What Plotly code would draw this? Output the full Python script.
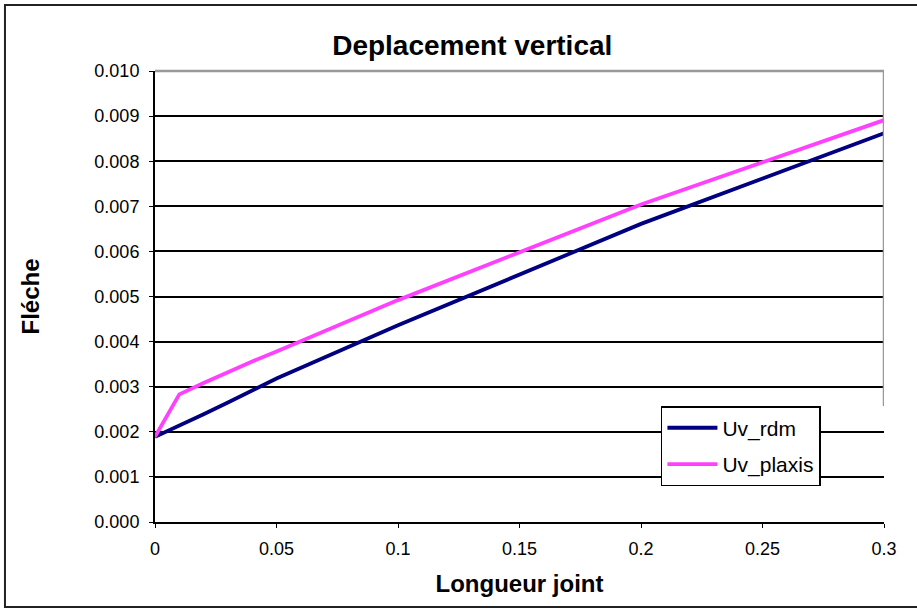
import plotly.graph_objects as go

x_vals = [0, 0.01, 0.02, 0.03, 0.04, 0.05, 0.1, 0.2, 0.3]
uv_rdm = [0.00189, 0.00213, 0.00239, 0.00265, 0.00291, 0.00318, 0.00436, 0.00661, 0.00862]
uv_plaxis = [0.00189, 0.00283, 0.00308, 0.00333, 0.00356, 0.00378, 0.00492, 0.00704, 0.00891]
y_ticks = [0, 0.001, 0.002, 0.003, 0.004, 0.005, 0.006, 0.007, 0.008, 0.009, 0.010]
x_ticks = [0, 0.05, 0.1, 0.15, 0.2, 0.25, 0.3]

FONT = "Liberation Sans, Arial, sans-serif"

fig = go.Figure()
fig.add_trace(go.Scatter(x=x_vals, y=uv_rdm, mode="lines", name="Uv_rdm", legendgroup="a",
                         line=dict(color="#000080", width=3.8)))
fig.add_trace(go.Scatter(x=x_vals, y=uv_plaxis, mode="lines", name="Uv_plaxis", legendgroup="b",
                         line=dict(color="#FF40FF", width=3.8)))

fig.update_layout(
    width=917, height=610,
    margin=dict(l=155, r=33, t=71, b=88),
    paper_bgcolor="white", plot_bgcolor="white",
    font=dict(family=FONT, color="black", size=18),
    title=dict(text="<b>Deplacement vertical</b>", x=0.515, xanchor="center",
               y=0.926, yanchor="middle", font=dict(size=28, family=FONT)),
    showlegend=True,
    legend=dict(x=0.694, xanchor="left", y=0.257, yanchor="top",
                bordercolor="black", borderwidth=1.5, bgcolor="white",
                font=dict(size=21, family=FONT), tracegroupgap=6, itemwidth=50),
    xaxis=dict(range=[0, 0.3], tickvals=x_ticks,
               ticktext=["0", "0.05", "0.1", "0.15", "0.2", "0.25", "0.3"],
               showgrid=False, zeroline=False, showline=True, linecolor="black",
               linewidth=2, ticks="outside", ticklen=4, tickcolor="black",
               tickfont=dict(size=18), ticklabelstandoff=5,
               title=dict(text="<b>Longueur joint</b>", font=dict(size=24), standoff=18)),
    yaxis=dict(range=[0, 0.010], tickvals=y_ticks,
               ticktext=[f"{v:.3f}" for v in y_ticks],
               showgrid=True, gridcolor="black", gridwidth=1.5,
               zeroline=False, showline=True, linecolor="black", linewidth=2,
               ticks="outside", ticklen=4, tickcolor="black",
               tickfont=dict(size=18), ticklabelstandoff=6,
               title=dict(text="<b>Fléche</b>", font=dict(size=24), standoff=48)),
)

# Plot area top border (gray) and partial right border
fig.add_shape(type="line", xref="paper", yref="paper", x0=0, x1=1, y0=1, y1=1,
              line=dict(color="#999999", width=2.5))
fig.add_shape(type="line", xref="x", yref="y", x0=0.3, x1=0.3, y0=0.010, y1=0.00257,
              line=dict(color="#999999", width=2.5))
# Outer chart border
fig.add_shape(type="rect", xref="paper", yref="paper",
              x0=-0.2058, x1=1.1, y0=-0.1885, y1=1.1463,
              line=dict(color="#222222", width=2))

fig.write_html("out.html")
